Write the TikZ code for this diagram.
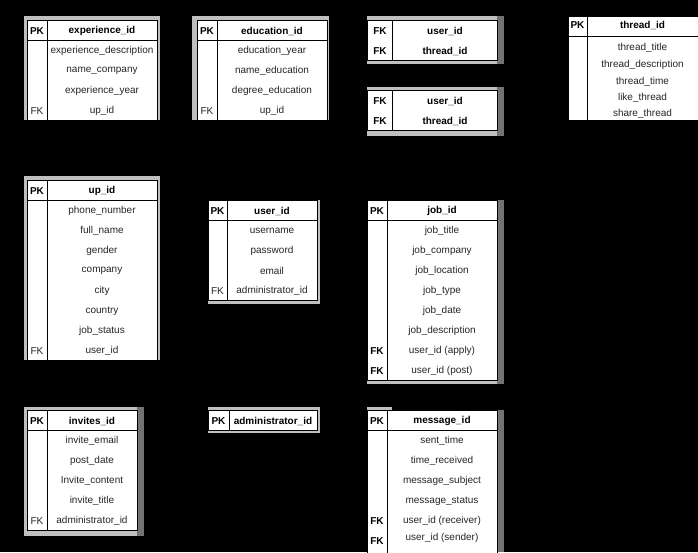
\documentclass[tikz,border=0pt]{standalone}
\usepackage{fontspec}
\setmainfont{Liberation Sans}
\usepackage{tikz}

\tikzset{
  tbl/.style={fill=white,draw=black},
  rim/.style={fill=black!25},
  rimdark/.style={fill=black!55},
  hdr/.style={font=\fontsize{10}{12}\selectfont\bfseries,inner sep=0pt},
  fld/.style={font=\fontsize{10}{12}\selectfont,text=black!85,inner sep=0pt},
}

\begin{document}
\begin{tikzpicture}[x=1pt,y=-1pt,line width=1pt]

\fill[black] (0,0) rectangle (698,552);
\useasboundingbox (0,0) rectangle (698,552);

% experience
\fill[rim] (24,16) rectangle (160,120);
\draw[tbl] (27,20) rectangle (157,120);
\draw (47,20) -- (47,120) (27,40) -- (157,40);
 \node[hdr] (expPK) at (37,31) {PK};
 \node[hdr] (expH) at (102,31) {experience\_id};
\foreach \f [count=\i] in {experience\_description,name\_company,experience\_year,up\_id}
 \node[fld] (exp\i) at (102,{31+20*\i}) {\f};
 \node[fld] (expFK) at (37,111) {FK};

% education
\fill[rim] (192,16) rectangle (329,120);
\draw[tbl] (197,20) rectangle (327,120);
\draw (217,20) -- (217,120) (197,40) -- (327,40);
 \node[hdr] (eduPK) at (207,31) {PK};
 \node[hdr] (eduH) at (272,31) {education\_id};
\foreach \f [count=\i] in {education\_year,name\_education,degree\_education,up\_id}
 \node[fld] (edu\i) at (272,{31+20*\i}) {\f};
 \node[fld] (eduFK) at (207,111) {FK};

% user - thread (first)
\fill[rim] (367,16) rectangle (504,64);
\fill[rimdark] (497,16) rectangle (504,64);
\draw[tbl] (367,20) rectangle (497,60);
\draw (392,20) -- (392,60);
 \node[hdr] (lkaFKa) at (380,31) {FK};
 \node[hdr] (lkaFKb) at (380,51) {FK};
 \node[hdr] (lkaA) at (445,31) {user\_id};
 \node[hdr] (lkaB) at (445,51) {thread\_id};

% user - thread (second)
\fill[rim] (367,87) rectangle (504,136);
\fill[rimdark] (497,87) rectangle (504,136);
\draw[tbl] (367,90) rectangle (497,130);
\draw (392,90) -- (392,130);
 \node[hdr] (lkbFKa) at (380,101) {FK};
 \node[hdr] (lkbFKb) at (380,121) {FK};
 \node[hdr] (lkbA) at (445,101) {user\_id};
 \node[hdr] (lkbB) at (445,121) {thread\_id};

% thread
\draw[tbl] (568,16) rectangle (700,120);
\draw (587,16) -- (587,120) (568,36) -- (700,36);
 \node[hdr] (thrPK) at (577.5,25) {PK};
 \node[hdr] (thrH) at (642.5,25) {thread\_id};
\foreach \f/\y [count=\i] in {thread\_title/47.7,thread\_description/65,thread\_time/82.3,like\_thread/98.3,share\_thread/114.3}
 \node[fld] (thr\i) at (642.5,\y) {\f};

% up
\fill[rim] (24,176) rectangle (160,360);
\draw[tbl] (27,180) rectangle (157,360);
\draw (47,180) -- (47,360) (27,200) -- (157,200);
 \node[hdr] (upPK) at (37,191) {PK};
 \node[hdr] (upH) at (102,191) {up\_id};
\foreach \f [count=\i] in {phone\_number,full\_name,gender,company,city,country,job\_status,user\_id}
 \node[fld] (up\i) at (102,{191+20*\i}) {\f};
 \node[fld] (upFK) at (37,351) {FK};

% user
\fill[rim] (208,200) rectangle (320,304);
\draw[tbl] (208,200) rectangle (317,300);
\draw (227,200) -- (227,300) (208,220) -- (317,220);
 \node[hdr] (usrPK) at (217.5,211) {PK};
 \node[hdr] (usrH) at (272,211) {user\_id};
\foreach \f [count=\i] in {username,password,email,administrator\_id}
 \node[fld] (usr\i) at (272,{211+20*\i}) {\f};
 \node[fld] (usrFK) at (217.5,291) {FK};

% job
\fill[rim] (367,200) rectangle (504,384);
\fill[rimdark] (497,200) rectangle (504,384);
\draw[tbl] (367,200) rectangle (497,380);
\draw (387,200) -- (387,380) (367,220) -- (497,220);
 \node[hdr] (jobPK) at (377,211) {PK};
 \node[hdr] (jobH) at (442,211) {job\_id};
\foreach \f [count=\i] in {job\_title,job\_company,job\_location,job\_type,job\_date,job\_description,user\_id (apply),user\_id (post)}
 \node[fld] (job\i) at (442,{211+20*\i}) {\f};
 \node[hdr] (jobFKa) at (377,351) {FK};
 \node[hdr] (jobFKb) at (377,371) {FK};

% invites
\fill[rim] (24,407) rectangle (144,536);
\fill[rimdark] (137,407) rectangle (144,536);
\draw[tbl] (27,410) rectangle (137,530);
\draw (47,410) -- (47,530) (27,430) -- (137,430);
 \node[hdr] (invPK) at (37,421) {PK};
 \node[hdr] (invH) at (92,421) {invites\_id};
\foreach \f [count=\i] in {invite\_email,post\_date,Invite\_content,invite\_title,administrator\_id}
 \node[fld] (inv\i) at (92,{421+20*\i}) {\f};
 \node[fld] (invFK) at (37,521) {FK};

% administrator
\fill[rim] (208,407) rectangle (320,433);
\draw[tbl] (208,410) rectangle (317,430);
\draw (229,410) -- (229,430);
 \node[hdr] (admPK) at (218.5,421) {PK};
 \node[hdr] (admH) at (273,421) {administrator\_id};

% message
\fill[rim] (367,407) rectangle (392,411);
\fill[rimdark] (497,410) rectangle (504,552);
\draw[tbl] (367,410) rectangle (497,556);
\draw (387,410) -- (387,556) (367,430) -- (497,430);
 \node[hdr] (msgPK) at (377,421) {PK};
 \node[hdr] (msgH) at (442,421) {message\_id};
\foreach \f/\y [count=\i] in {sent\_time/441,time\_received/461,message\_subject/481,message\_status/501,user\_id (receiver)/521,user\_id (sender)/538}
 \node[fld] (msg\i) at (442,\y) {\f};
 \node[hdr] (msgFKa) at (377,521) {FK};
 \node[hdr] (msgFKb) at (377,541) {FK};

\end{tikzpicture}
\end{document}
